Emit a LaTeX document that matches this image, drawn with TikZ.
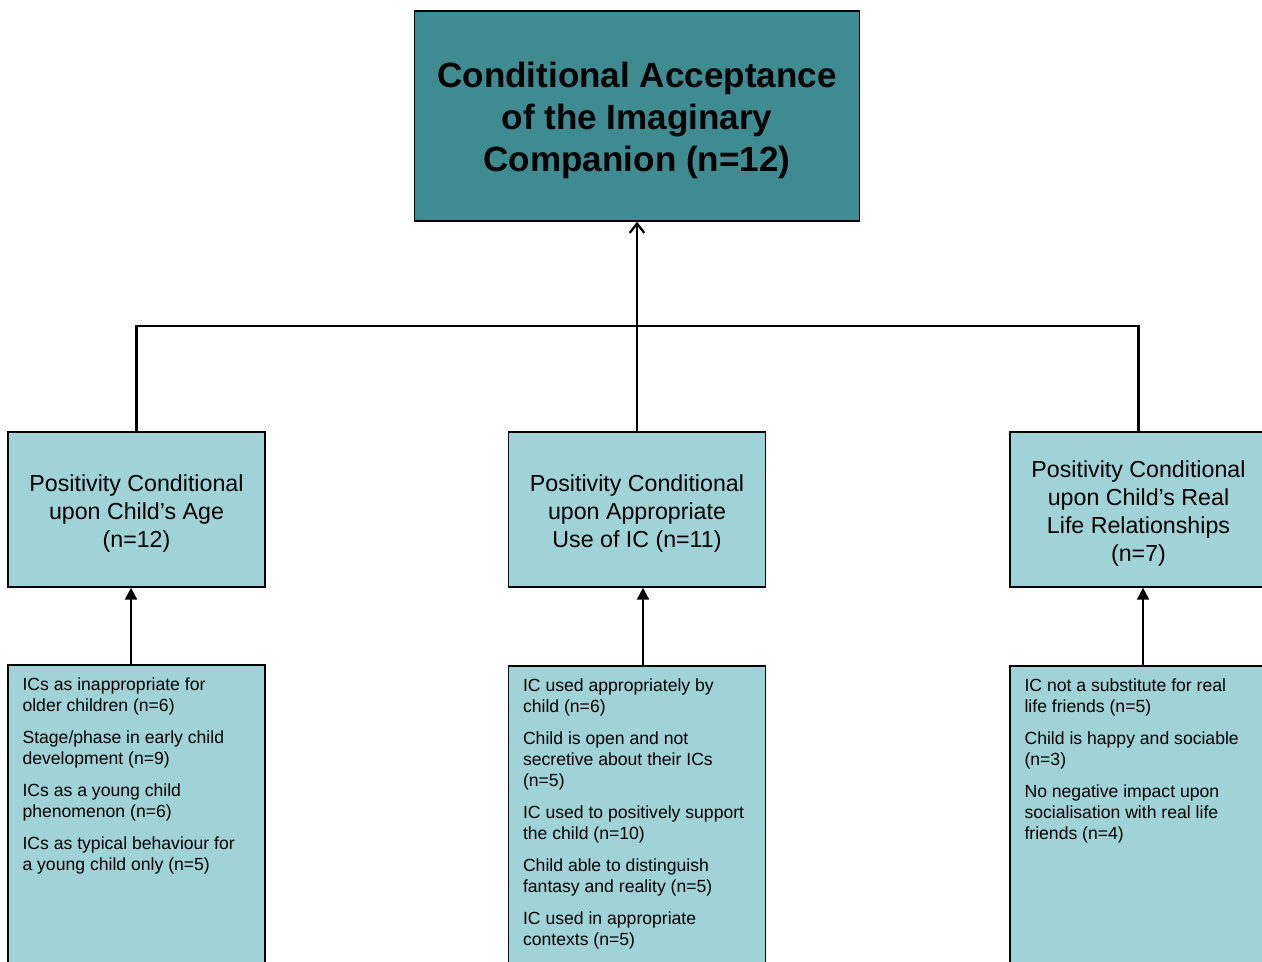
\documentclass[tikz,border=0pt]{standalone}
\usepackage{fontspec}
\setmainfont{Liberation Sans}
\usetikzlibrary{arrows.meta}
\definecolor{headteal}{RGB}{62,139,146}
\definecolor{paleteal}{RGB}{159,211,215}
\tikzset{
  headbox/.style={draw=black, line width=1.1pt, fill=headteal, minimum width=333.75pt,
    minimum height=157.5pt, inner sep=0pt},
  headtext/.style={align=center, font=\fontsize{26.3}{31.5}\selectfont\bfseries, inner sep=0pt},
  themebox/.style={draw=black, line width=1.1pt, fill=paleteal, minimum width=192.75pt,
    minimum height=116.25pt, inner sep=0pt},
  themetext/.style={align=center, font=\fontsize{17.4}{21}\selectfont, inner sep=0pt},
  codebox/.style={draw=black, line width=1.1pt, fill=paleteal, minimum width=192.75pt,
    minimum height=251.25pt, inner sep=0pt},
  codetext/.style={anchor=north west, align=left, inner sep=0pt, font=\fontsize{13.2}{15.75}\selectfont},
  link/.style={line width=1.7pt},
}
\begin{document}
\begin{tikzpicture}[x=0.75pt, y=-0.75pt]
\useasboundingbox (0,0) rectangle (1262,961);
\clip (0,0) rectangle (1262,961);

% top level theme
\node[headbox] (top) at (637,116) {};
\node[headtext] (topt) at ([yshift=-3pt]top.center) {Conditional Acceptance\\of the Imaginary\\Companion (n=12)};

% sub-themes
\node[themebox] (age) at (136.5,509.5) {};
\node[themebox] (use) at (637,509.5) {};
\node[themebox] (rel) at (1138.5,509.5) {};
\node[themetext] (aget0) at ([yshift=-3pt]age.center) {Positivity Conditional\\upon Child’s Age\\(n=12)};
\node[themetext] (uset0) at ([yshift=-3pt]use.center) {Positivity Conditional\\upon Appropriate\\Use of IC (n=11)};
\node[themetext] (relt0) at ([yshift=-3pt]rel.center) {Positivity Conditional\\upon Child’s Real\\Life Relationships\\(n=7)};

% codes
\node[codebox] (agec) at (136.5,832.5) {};
\node[codebox] (usec) at (637,833.5) {};
\node[codebox] (relc) at (1138.5,833.5) {};

\node[codetext] (aget) at ([shift={(15,13)}]agec.north west)
  {ICs as inappropriate for\\older children (n=6)\\[8.25pt]
   Stage/phase in early child\\development (n=9)\\[8.25pt]
   ICs as a young child\\phenomenon (n=6)\\[8.25pt]
   ICs as typical behaviour for\\a young child only (n=5)};
\node[codetext] (uset) at ([shift={(15,13)}]usec.north west)
  {IC used appropriately by\\child (n=6)\\[8.25pt]
   Child is open and not\\secretive about their ICs\\(n=5)\\[8.25pt]
   IC used to positively support\\the child (n=10)\\[8.25pt]
   Child able to distinguish\\fantasy and reality (n=5)\\[8.25pt]
   IC used in appropriate\\contexts (n=5)};
\node[codetext] (relt) at ([shift={(15,13)}]relc.north west)
  {IC not a substitute for real\\life friends (n=5)\\[8.25pt]
   Child is happy and sociable\\(n=3)\\[8.25pt]
   No negative impact upon\\socialisation with real life\\friends (n=4)};

% connectors
\coordinate (bus) at (637,326);
\draw[link] (age.north) -- (age.north |- bus) -- (rel.north |- bus) -- (rel.north);
\draw[link, -{Straight Barb[length=7pt, width=11pt, line width=1.7pt]}] (use.north) -- (top.south);
\draw[link, -{Triangle[length=9pt, width=9pt]}] ([xshift=-4.1pt]agec.north) -- ([xshift=-4.1pt]age.south);
\draw[link, -{Triangle[length=9pt, width=9pt]}] ([xshift=4.5pt]usec.north) -- ([xshift=4.5pt]use.south);
\draw[link, -{Triangle[length=9pt, width=9pt]}] ([xshift=3.4pt]relc.north) -- ([xshift=3.4pt]rel.south);
\end{tikzpicture}
\end{document}
